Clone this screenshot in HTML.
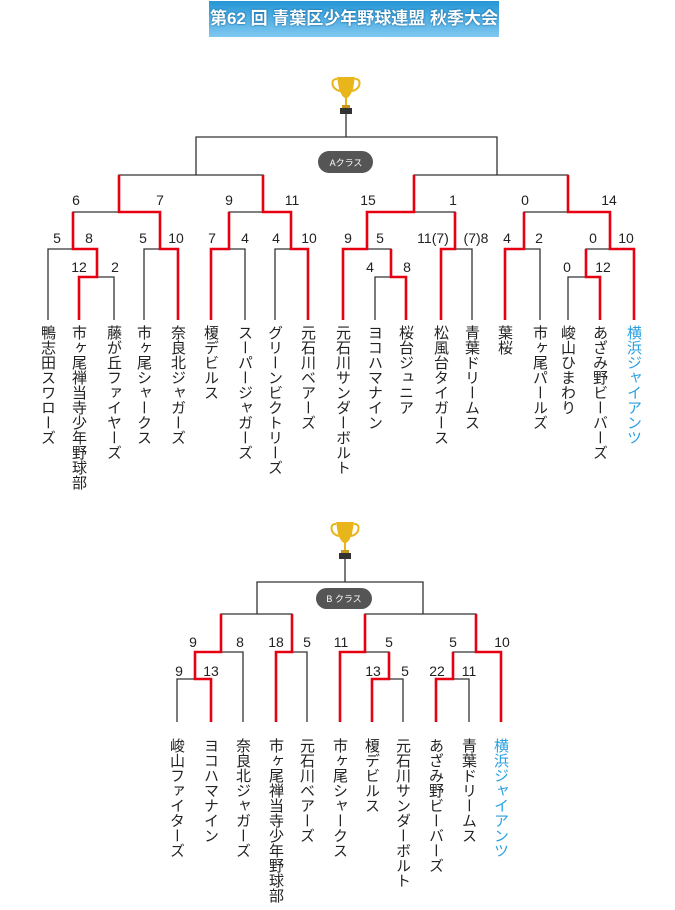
<!DOCTYPE html>
<html><head><meta charset="utf-8"><style>
html,body{margin:0;padding:0;background:#fff;}
#w{position:relative;width:675px;height:910px;overflow:hidden;font-family:"Liberation Sans","Noto Sans CJK JP",sans-serif;}
.t{position:absolute;top:0;left:0;}
.lf{position:absolute;writing-mode:vertical-rl;font-size:15px;line-height:16px;width:16px;color:#222;font-family:"Noto Sans CJK JP",sans-serif;letter-spacing:0;}
.title{position:absolute;left:209px;top:1px;width:290px;height:36px;background:linear-gradient(#2496d6,#7fc8f0);color:#fff;font-weight:bold;font-size:17px;line-height:36px;text-align:center;font-family:"Liberation Sans","Noto Sans CJK JP",sans-serif;text-shadow:0 0 2px #0a5a90;}
</style></head><body><div id="w">
<div class="title">第62 回 青葉区少年野球連盟 秋季大会</div>
<svg class="t" width="675" height="910" viewBox="0 0 675 910">
<defs><g id="tr">
<path d="M-9 0 H9 L7 12 Q4 20 1 21 V28 H-1 V21 Q-4 20 -7 12 Z" fill="#e8b51a"/>
<path d="M-9 2 Q-15 2 -13 9 Q-11 13 -6 14" fill="none" stroke="#e8b51a" stroke-width="2"/>
<path d="M9 2 Q15 2 13 9 Q11 13 6 14" fill="none" stroke="#e8b51a" stroke-width="2"/>
<path d="M-4 28 H4 V31 H-4Z" fill="#c8961a"/>
<rect x="-6" y="31" width="12" height="6" fill="#333"/>
</g></defs>
<use href="#tr" x="346" y="77"/>
<use href="#tr" x="345" y="522"/>
<g fill="none" stroke="#333" stroke-width="1.3">
<path d="M346 113V137M196 175V137H497V175M119 212V175H263V212M414 212V175H568V212M73 249V212H160V249M229 249V212H291V249M367 249V212H455V249M524 249V212H610V249M48 320V249H97V277M144 320V249H178V320M211 320V249H245V320M275 320V249H308V320M343 320V249H391V277M441 320V249H472V320M505 320V249H540V320M586 277V249H634V320M79 320V277H114V320M375 320V277H406V320M568 320V277H600V320"/>
<path d="M345 558V582M257 614V582H423V614M221 652V614H292V652M365 652V614H476V652M195 679V652H243V722M276 722V652H307V722M340 722V652H389V679M453 679V652H501V722M177 722V679H211V722M372 722V679H403V722M436 722V679H469V722"/>
</g>
<g fill="none" stroke="#e60012" stroke-width="2.6">
<path d="M79 320V277H97V249H73V212M178 320V249H160V212H119V175M308 320V249H291V212H263V175M211 320V249H229V212M343 320V249H367V212H414V175M406 320V277H391V249M441 320V249H455V212M505 320V249H524V212M600 320V277H586V249M634 320V249H610V212H568V175"/>
<path d="M211 722V679H195V652H221V614M276 722V652H292V614M340 722V652H365V614M372 722V679H389V652M501 722V652H476V614M436 722V679H453V652"/>
</g>
<rect x="318" y="151" width="55" height="22" rx="11" fill="#555"/>
<text x="346" y="166" font-size="9" fill="#fff" text-anchor="middle" font-family="Liberation Sans,Noto Sans CJK JP,sans-serif">Aクラス</text>
<rect x="316" y="588" width="56" height="21" rx="10.5" fill="#555"/>
<text x="344" y="602" font-size="9" fill="#fff" text-anchor="middle" font-family="Liberation Sans,Noto Sans CJK JP,sans-serif">B クラス</text>
<g font-size="14" fill="#222" text-anchor="middle" font-family="Liberation Sans,sans-serif">
<text x="76" y="205">6</text><text x="160" y="205">7</text><text x="229" y="205">9</text><text x="292" y="205">11</text><text x="368" y="205">15</text><text x="453" y="205">1</text><text x="525" y="205">0</text><text x="609" y="205">14</text>
<text x="57" y="243">5</text><text x="89" y="243">8</text><text x="143" y="243">5</text><text x="176" y="243">10</text><text x="212" y="243">7</text><text x="245" y="243">4</text><text x="276" y="243">4</text><text x="309" y="243">10</text><text x="348" y="243">9</text><text x="380" y="243">5</text><text x="433" y="243">11(7)</text><text x="476" y="243">(7)8</text><text x="507" y="243">4</text><text x="539" y="243">2</text><text x="593" y="243">0</text><text x="626" y="243">10</text>
<text x="79" y="272">12</text><text x="115" y="272">2</text><text x="370" y="272">4</text><text x="407" y="272">8</text><text x="567" y="272">0</text><text x="603" y="272">12</text>
<text x="193" y="647">9</text><text x="240" y="647">8</text><text x="276" y="647">18</text><text x="307" y="647">5</text><text x="341" y="647">11</text><text x="389" y="647">5</text><text x="453" y="647">5</text><text x="502" y="647">10</text>
<text x="179" y="676">9</text><text x="211" y="676">13</text><text x="373" y="676">13</text><text x="405" y="676">5</text><text x="437" y="676">22</text><text x="469" y="676">11</text>
</g>
</svg>
<div class="lf" style="left:40px;top:325px">鴨志田スワローズ</div>
<div class="lf" style="left:71px;top:325px">市ヶ尾禅当寺少年野球部</div>
<div class="lf" style="left:106px;top:325px">藤が丘ファイヤーズ</div>
<div class="lf" style="left:136px;top:325px">市ヶ尾シャークス</div>
<div class="lf" style="left:170px;top:325px">奈良北ジャガーズ</div>
<div class="lf" style="left:203px;top:325px">榎デビルス</div>
<div class="lf" style="left:237px;top:325px">スーパージャガーズ</div>
<div class="lf" style="left:267px;top:325px">グリーンビクトリーズ</div>
<div class="lf" style="left:300px;top:325px">元石川ベアーズ</div>
<div class="lf" style="left:335px;top:325px">元石川サンダーボルト</div>
<div class="lf" style="left:367px;top:325px">ヨコハマナイン</div>
<div class="lf" style="left:398px;top:325px">桜台ジュニア</div>
<div class="lf" style="left:433px;top:325px">松風台タイガース</div>
<div class="lf" style="left:464px;top:325px">青葉ドリームス</div>
<div class="lf" style="left:497px;top:325px">葉桜</div>
<div class="lf" style="left:532px;top:325px">市ヶ尾パールズ</div>
<div class="lf" style="left:560px;top:325px">峻山ひまわり</div>
<div class="lf" style="left:592px;top:325px">あざみ野ビーバーズ</div>
<div class="lf" style="left:626px;top:325px;color:#29a0e0">横浜ジャイアンツ</div>
<div class="lf" style="left:169px;top:738px">峻山ファイターズ</div>
<div class="lf" style="left:203px;top:738px">ヨコハマナイン</div>
<div class="lf" style="left:235px;top:738px">奈良北ジャガーズ</div>
<div class="lf" style="left:268px;top:738px">市ヶ尾禅当寺少年野球部</div>
<div class="lf" style="left:299px;top:738px">元石川ベアーズ</div>
<div class="lf" style="left:332px;top:738px">市ヶ尾シャークス</div>
<div class="lf" style="left:364px;top:738px">榎デビルス</div>
<div class="lf" style="left:395px;top:738px">元石川サンダーボルト</div>
<div class="lf" style="left:428px;top:738px">あざみ野ビーバーズ</div>
<div class="lf" style="left:461px;top:738px">青葉ドリームス</div>
<div class="lf" style="left:493px;top:738px;color:#29a0e0">横浜ジャイアンツ</div>
</div></body></html>
